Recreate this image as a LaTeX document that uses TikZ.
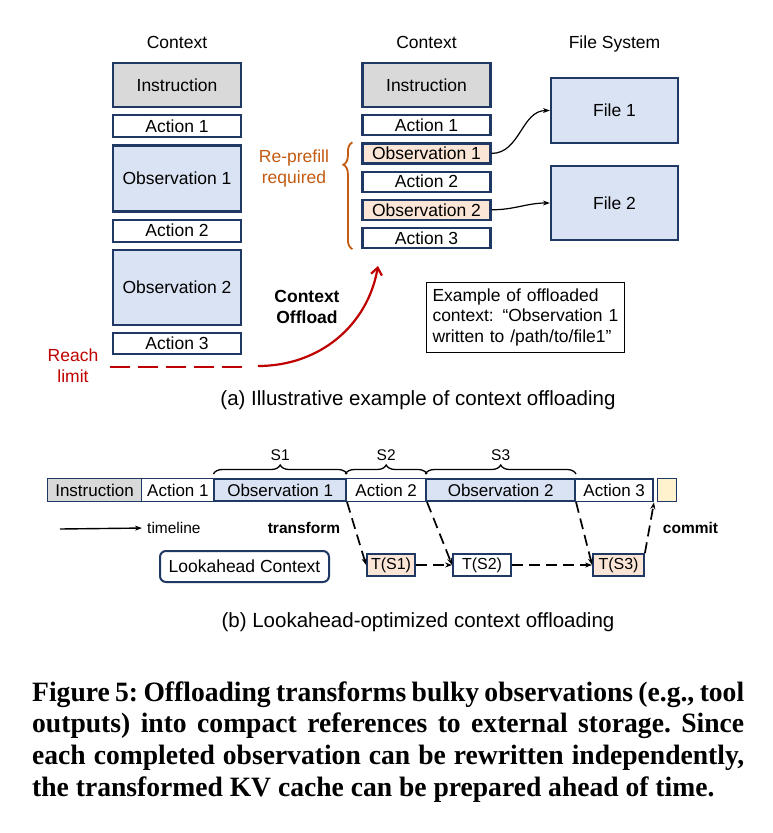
\documentclass[tikz,border=0pt]{standalone}
\usepackage{fontspec}
\setmainfont{Liberation Sans}
\newfontfamily\capfont[FakeStretch=0.985]{Liberation Serif}
\usetikzlibrary{positioning, arrows.meta, decorations.pathreplacing}
\definecolor{navy}{HTML}{1F3864}
\definecolor{instgray}{HTML}{D9D9D9}
\definecolor{obsblue}{HTML}{DAE3F3}
\definecolor{peach}{HTML}{FBE5D6}
\definecolor{lightyellow}{HTML}{FFF2CC}
\definecolor{limitred}{HTML}{C00000}
\definecolor{braceorange}{HTML}{C55A11}
\tikzset{
  x=1pt, y=-1pt,
  >={Stealth[length=7pt, width=5pt]},
  every node/.style={inner sep=1pt, font=\fontsize{17.5}{21}\selectfont},
  block/.style={draw=navy, line width=2.2pt, minimum width=128pt},
  instr/.style={block, fill=instgray, minimum height=44pt},
  act/.style={block, fill=white},
  obs/.style={block, fill=obsblue},
  moved/.style={block, fill=peach},
  filebox/.style={block, fill=obsblue, minimum width=127pt},
  seg/.style={draw=navy, line width=1.2pt, minimum height=22.8pt, font=\fontsize{17}{20}\selectfont},
  obsseg/.style={seg, fill=obsblue, line width=2pt, minimum height=22pt},
  tbox/.style={draw=navy, line width=1.8pt, minimum height=22pt, font=\fontsize{16}{19}\selectfont},
  small/.style={font=\fontsize{15.5}{18}\selectfont},
  smallbold/.style={font=\fontsize{15.5}{18}\selectfont\bfseries},
  sbrace/.style={decorate, decoration={brace, amplitude=9pt}, line width=1.3pt},
  dasharrow/.style={->, line width=1.7pt, dash pattern=on 11pt off 6pt},
  link/.style={->, line width=1.2pt},
  subcap/.style={font=\fontsize{20.5}{24}\selectfont},
}

\begin{document}
\begin{tikzpicture}
  \fill[white] (0,0) rectangle (773,833);
  \useasboundingbox (0,0) rectangle (773,833);

  \node[anchor=base] (ctxL) at (177,48) {Context};
  \node[instr] (instrL) at (177,85) {Instruction};
  \node[act, minimum height=22pt, below=6pt of instrL] (act1L) {Action 1};
  \node[obs, minimum height=66pt, below=6pt of act1L] (obs1L) {Observation 1};
  \node[act, minimum height=22pt, below=6pt of obs1L] (act2L) {Action 2};
  \node[obs, minimum height=75pt, below=6pt of act2L] (obs2L) {Observation 2};
  \node[act, minimum height=21pt, below=6pt of obs2L] (act3L) {Action 3};

  \node[anchor=base] (ctxR) at (426.5,48) {Context};
  \node[instr] (instrR) at (426.5,85) {Instruction};
  \node[act, minimum height=20pt, below=6pt of instrR] (act1R) {Action 1};
  \node[moved, minimum height=20pt, below=6pt of act1R] (obs1R) {Observation 1};
  \node[act, minimum height=20pt, below=6pt of obs1R] (act2R) {Action 2};
  \node[moved, minimum height=20pt, below=6pt of act2R] (obs2R) {Observation 2};
  \node[act, minimum height=20pt, below=6pt of obs2R] (act3R) {Action 3};

  \node[anchor=base] (fsys) at (614.5,48) {File System};
  \node[filebox, minimum height=65pt] (file1) at (614.5,110.5) {File 1};
  \node[filebox, minimum height=74pt] (file2) at (614.5,203) {File 2};
  \draw[link] (obs1R.east) to[out=0, in=180] (file1.west);
  \draw[link] (obs2R.east) to[out=0, in=180] (file2.west);

  \draw[braceorange, line width=1.8pt, decorate, decoration={brace, amplitude=9pt, aspect=0.79}]
    ([xshift=-9pt]act3R.south west) -- ([xshift=-9pt]obs1R.north west);
  \node[text=braceorange, align=center] (reprefill) at (294,168) {Re-prefill\\required};

  \node[text=limitred, align=center] (reach) at (73,366) {Reach\\limit};
  \coordinate (limA) at (110,367);
  \coordinate (limB) at (245,367);
  \coordinate (offA) at (258,366);
  \coordinate (offB) at (378,266);
  \draw[limitred, line width=2.5pt, dash pattern=on 20pt off 8pt] (limA) -- (limB);
  \draw[limitred, line width=2.2pt, -{Straight Barb[length=7pt, width=11pt]}] (offA) to[out=0, in=-100] (offB);
  \node[font=\fontsize{17.5}{20.5}\selectfont\bfseries, align=center] (offload) at (307,307) {Context\\Offload};

  \node[draw, line width=1pt, text width=186pt, align=left, inner xsep=6pt, inner ysep=6pt, anchor=north west,
    font=\fontsize{17.5}{20.7}\selectfont] (example) at (426,282)
    {Example of offloaded\\context: “Observation 1\\written to /path/to/file1”};

  \node[subcap, anchor=base] (capa) at (418,405) {(a) Illustrative example of context offloading};

  \node[seg, fill=instgray, minimum width=93.8pt, anchor=west] (instrB) at (47,490) {Instruction};
  \node[seg, fill=white, minimum width=73pt, right=-1.2pt of instrB] (act1B) {Action 1};
  \node[obsseg, minimum width=131.6pt, right=-1.6pt of act1B] (obs1B) {Observation 1};
  \node[seg, fill=white, minimum width=80.4pt, right=-1.6pt of obs1B] (act2B) {Action 2};
  \node[obsseg, minimum width=148.6pt, right=-1.6pt of act2B] (obs2B) {Observation 2};
  \node[seg, fill=white, line width=1.8pt, minimum width=77.8pt, right=-1.6pt of obs2B] (act3B) {Action 3};
  \node[seg, fill=lightyellow, minimum width=18.8pt, right=3pt of act3B] (nextB) {};

  \draw[sbrace] ([yshift=4pt]obs1B.north west) -- ([yshift=4pt]obs1B.north east)
    node[midway, above=12pt, small] (s1) {S1};
  \draw[sbrace] ([yshift=4pt]act2B.north west) -- ([yshift=4pt]act2B.north east)
    node[midway, above=12pt, small] (s2) {S2};
  \draw[sbrace] ([yshift=4pt]obs2B.north west) -- ([yshift=4pt]obs2B.north east)
    node[midway, above=12pt, small] (s3) {S3};

  \coordinate (tlA) at (60,529);
  \node[small, anchor=west] (timeline) at (146,528) {timeline};
  \draw[link, line width=1.4pt, shorten >=4pt] (tlA) -- (timeline.west);
  \node[smallbold] (transform) at (304,528) {transform};
  \node[smallbold] (commit) at (690.5,528) {commit};

  \node[draw=navy, line width=2pt, rounded corners=6pt, minimum width=169pt, minimum height=31pt] (look) at (244.5,566.5) {Lookahead Context};
  \node[tbox, fill=peach, minimum width=48pt] (ts1) at (391,565) {T(S1)};
  \node[tbox, fill=white, minimum width=58pt] (ts2) at (482,565) {T(S2)};
  \node[tbox, fill=peach, minimum width=51pt] (ts3) at (618.5,565) {T(S3)};
  \draw[dasharrow] (obs1B.south east) -- (ts1.west);
  \draw[dasharrow] (act2B.south east) -- (ts2.west);
  \draw[dasharrow] (obs2B.south east) -- (ts3.west);
  \draw[dasharrow] (ts1) -- (ts2);
  \draw[dasharrow] (ts2) -- (ts3);
  \draw[dasharrow] (ts3.north east) -- (act3B.south east);

  \node[subcap, anchor=base] (capb) at (418,627) {(b) Lookahead-optimized context offloading};

  \node[anchor=base west, inner sep=0pt, text width=712pt, align=justify,
    font=\capfont\bfseries\fontsize{28}{31.7}\selectfont\frenchspacing] (figcap) at (32,701)
    {Figure 5: Offloading transforms bulky observations (e.g., tool\linebreak
     outputs) into compact references to external storage. Since\linebreak
     each completed observation can be rewritten independently,\linebreak
     the transformed KV cache can be prepared ahead of time.};
\end{tikzpicture}
\end{document}
